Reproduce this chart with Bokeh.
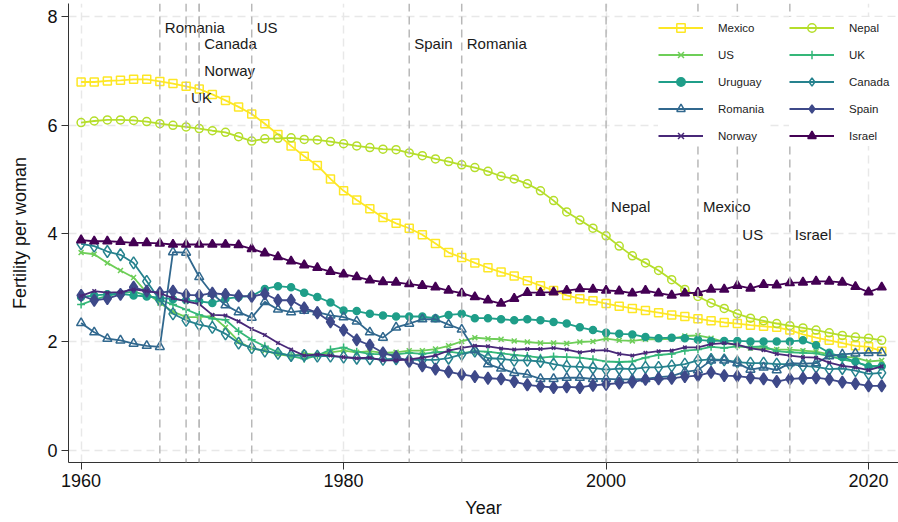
from bokeh.plotting import figure
from bokeh.models import Range1d, FixedTicker, Span, Legend, LegendItem
from bokeh.core.properties import value
from bokeh.embed import file_html
from bokeh.resources import INLINE

years = list(range(1960, 2022))

mexico = [6.80, 6.80, 6.82, 6.83, 6.85, 6.85, 6.81, 6.77, 6.72, 6.67,
          6.57, 6.46, 6.34, 6.21, 6.03, 5.83, 5.62, 5.43, 5.26, 5.01,
          4.79, 4.62, 4.46, 4.30, 4.19, 4.10, 3.98, 3.82, 3.65, 3.56,
          3.46, 3.37, 3.29, 3.22, 3.13, 3.04, 2.95, 2.86, 2.80, 2.76,
          2.71, 2.66, 2.62, 2.58, 2.54, 2.50, 2.47, 2.43, 2.39, 2.36,
          2.34, 2.31, 2.29, 2.27, 2.22, 2.14, 2.08, 2.03, 1.98, 1.93,
          1.91, 1.83]
nepal = [6.05, 6.08, 6.10, 6.10, 6.09, 6.07, 6.03, 6.00, 5.97, 5.94,
         5.90, 5.87, 5.79, 5.71, 5.75, 5.76, 5.77, 5.74, 5.73, 5.70,
         5.66, 5.62, 5.59, 5.56, 5.55, 5.49, 5.44, 5.38, 5.33, 5.27,
         5.22, 5.15, 5.06, 5.01, 4.92, 4.79, 4.61, 4.40, 4.25, 4.10,
         3.96, 3.77, 3.59, 3.46, 3.32, 3.15, 2.97, 2.84, 2.72, 2.62,
         2.52, 2.44, 2.39, 2.34, 2.30, 2.26, 2.22, 2.17, 2.12, 2.09,
         2.07, 2.03]
us = [3.65, 3.62, 3.46, 3.32, 3.19, 2.91, 2.72, 2.56, 2.46, 2.46,
      2.48, 2.27, 2.01, 1.88, 1.84, 1.77, 1.74, 1.79, 1.76, 1.81,
      1.84, 1.81, 1.83, 1.80, 1.81, 1.84, 1.84, 1.87, 1.93, 2.01,
      2.08, 2.06, 2.05, 2.02, 2.00, 1.98, 1.98, 1.97, 2.00, 2.01,
      2.06, 2.03, 2.02, 2.05, 2.05, 2.06, 2.11, 2.12, 2.07, 2.00,
      1.93, 1.89, 1.88, 1.86, 1.86, 1.84, 1.82, 1.77, 1.73, 1.71,
      1.64, 1.66]
uk = [2.69, 2.78, 2.85, 2.90, 2.93, 2.86, 2.78, 2.69, 2.60, 2.50,
      2.43, 2.41, 2.20, 2.04, 1.92, 1.81, 1.74, 1.69, 1.75, 1.86,
      1.90, 1.82, 1.78, 1.77, 1.77, 1.80, 1.78, 1.81, 1.82, 1.79,
      1.83, 1.82, 1.79, 1.76, 1.74, 1.71, 1.73, 1.72, 1.71, 1.68,
      1.64, 1.63, 1.64, 1.71, 1.76, 1.78, 1.84, 1.86, 1.91, 1.89,
      1.92, 1.91, 1.92, 1.83, 1.81, 1.80, 1.79, 1.74, 1.68, 1.63,
      1.56, 1.56]
uruguay = [2.83, 2.86, 2.88, 2.89, 2.86, 2.84, 2.82, 2.79, 2.77, 2.75,
           2.72, 2.80, 2.83, 2.85, 2.98, 3.03, 3.01, 2.91, 2.83, 2.73,
           2.58, 2.57, 2.52, 2.49, 2.47, 2.47, 2.47, 2.44, 2.50, 2.52,
           2.44, 2.44, 2.42, 2.40, 2.42, 2.40, 2.37, 2.34, 2.27, 2.22,
           2.17, 2.15, 2.14, 2.09, 2.07, 2.08, 2.07, 2.04, 2.02, 2.02,
           2.02, 2.01, 2.01, 2.01, 2.01, 2.03, 1.94, 1.80, 1.72, 1.64,
           1.54, 1.55]
canada = [3.81, 3.77, 3.67, 3.61, 3.46, 3.12, 2.77, 2.52, 2.40, 2.32,
          2.27, 2.15, 1.98, 1.89, 1.83, 1.79, 1.75, 1.75, 1.74, 1.74,
          1.72, 1.70, 1.69, 1.68, 1.69, 1.67, 1.67, 1.67, 1.70, 1.77,
          1.83, 1.70, 1.69, 1.66, 1.66, 1.64, 1.59, 1.55, 1.54, 1.52,
          1.49, 1.51, 1.50, 1.53, 1.53, 1.56, 1.59, 1.66, 1.68, 1.67,
          1.63, 1.61, 1.61, 1.59, 1.59, 1.56, 1.54, 1.50, 1.51, 1.47,
          1.41, 1.43]
romania = [2.35, 2.18, 2.06, 2.03, 1.97, 1.93, 1.91, 3.66, 3.65, 3.20,
           2.89, 2.68, 2.55, 2.45, 2.74, 2.60, 2.55, 2.58, 2.55, 2.49,
           2.46, 2.38, 2.18, 2.08, 2.27, 2.34, 2.42, 2.42, 2.32, 2.23,
           1.85, 1.59, 1.51, 1.43, 1.40, 1.32, 1.32, 1.34, 1.34, 1.32,
           1.32, 1.31, 1.31, 1.32, 1.35, 1.37, 1.45, 1.48, 1.66, 1.66,
           1.61, 1.49, 1.53, 1.48, 1.61, 1.60, 1.61, 1.74, 1.77, 1.79,
           1.80, 1.80]
spain = [2.86, 2.77, 2.80, 2.88, 3.01, 2.94, 2.91, 2.94, 2.87, 2.86,
         2.90, 2.88, 2.85, 2.84, 2.89, 2.77, 2.77, 2.63, 2.54, 2.37,
         2.22, 2.04, 1.94, 1.80, 1.73, 1.64, 1.56, 1.50, 1.45, 1.40,
         1.36, 1.33, 1.32, 1.27, 1.21, 1.18, 1.16, 1.17, 1.16, 1.20,
         1.22, 1.24, 1.26, 1.31, 1.32, 1.33, 1.36, 1.38, 1.44, 1.38,
         1.37, 1.34, 1.32, 1.27, 1.32, 1.33, 1.34, 1.31, 1.26, 1.23,
         1.19, 1.19]
norway = [2.85, 2.94, 2.91, 2.92, 2.97, 2.94, 2.90, 2.81, 2.75, 2.70,
          2.50, 2.49, 2.38, 2.24, 2.13, 1.98, 1.86, 1.75, 1.77, 1.75,
          1.72, 1.70, 1.71, 1.66, 1.66, 1.68, 1.71, 1.75, 1.84, 1.89,
          1.93, 1.92, 1.88, 1.86, 1.87, 1.87, 1.89, 1.86, 1.81, 1.84,
          1.85, 1.78, 1.75, 1.80, 1.83, 1.84, 1.90, 1.90, 1.96, 1.98,
          1.95, 1.88, 1.85, 1.78, 1.75, 1.72, 1.71, 1.62, 1.56, 1.53,
          1.48, 1.55]
israel = [3.88, 3.86, 3.86, 3.85, 3.83, 3.83, 3.82, 3.80, 3.80, 3.80,
          3.80, 3.80, 3.79, 3.72, 3.64, 3.57, 3.49, 3.42, 3.37, 3.30,
          3.25, 3.20, 3.14, 3.11, 3.10, 3.07, 3.04, 3.01, 2.95, 2.90,
          2.83, 2.77, 2.71, 2.80, 2.91, 2.91, 2.92, 2.95, 2.98, 2.97,
          2.95, 2.94, 2.90, 2.95, 2.90, 2.86, 2.90, 2.91, 2.97, 2.97,
          3.04, 2.99, 3.06, 3.05, 3.09, 3.10, 3.12, 3.12, 3.10, 3.02,
          2.92, 3.01]

countries = ["Mexico", "Nepal", "US", "UK", "Uruguay", "Canada",
             "Romania", "Spain", "Norway", "Israel"]
series = [mexico, nepal, us, uk, uruguay, canada, romania, spain, norway, israel]
colors = ["#FDE725", "#B5DE2B", "#6ECE58", "#35B779", "#1F9E89",
          "#26828E", "#31688E", "#3E4989", "#482878", "#440154"]
markers = ["square", "circle", "x", "cross", "circle", "diamond",
           "triangle", "diamond", "x", "triangle"]
filled = [False, False, True, True, True, False, False, True, True, True]
msizes = [8, 8, 7, 8, 7, 12, 9, 12, 5, 9]

event_years = [1966, 1968, 1969, 1969, 1973, 1985, 1989, 2000, 2007, 2010, 2014]
event_labels = ["Romania", "UK", "Canada", "Norway", "US", "Spain", "Romania",
                "Nepal", "Mexico", "US", "Israel"]
label_y = [7.81, 6.51, 7.51, 7.01, 7.81, 7.51, 7.51, 4.50, 4.50, 3.99, 3.99]

FONT = "Liberation Sans"

p = figure(width=898, height=522, output_backend="svg", toolbar_location=None,
           x_range=Range1d(1959.04, 2022.28), y_range=Range1d(-0.225, 8.249),
           min_border_left=68, min_border_right=0, min_border_top=3,
           min_border_bottom=60)
p.outline_line_color = None
p.background_fill_color = "white"

for ax in (p.xaxis[0], p.yaxis[0]):
    ax.axis_line_color = "#333333"
    ax.major_tick_line_color = "#333333"
    ax.major_tick_out = 7
    ax.major_tick_in = 0
    ax.minor_tick_line_color = None
    ax.major_label_text_font = FONT
    ax.major_label_text_font_size = "18px"
    ax.major_label_text_color = "#111111"
    ax.axis_label_text_font = FONT
    ax.axis_label_text_font_size = "18px"
    ax.axis_label_text_font_style = "normal"
    ax.axis_label_text_color = "#111111"
    ax.major_label_standoff = 4

p.xaxis.ticker = FixedTicker(ticks=[1960, 1980, 2000, 2020])
p.yaxis.ticker = FixedTicker(ticks=[0, 2, 4, 6, 8])
p.xaxis.axis_label = "Year"
p.yaxis.axis_label = "Fertility per woman"
p.xaxis.axis_label_standoff = 8
p.yaxis.axis_label_standoff = 14

for g in (p.xgrid[0], p.ygrid[0]):
    g.grid_line_color = "#e8e8e8"
    g.grid_line_width = 1.5
    g.grid_line_dash = "8 5"

for yr in event_years:
    p.add_layout(Span(location=yr, dimension="height", line_color="#b8b8b8",
                      line_width=1.5, line_dash="8 5"))

items = []
for name, vals, col, mk, fl, ms in zip(countries, series, colors, markers, filled, msizes):
    lr = p.line(years, vals, line_color=col, line_width=1.8)
    sr = p.scatter(years, vals, marker=mk, size=ms, line_color=col, line_width=1.5,
                   fill_color=col, fill_alpha=1.0 if fl else 0.0)
    items.append(LegendItem(label=name, renderers=[lr, sr]))

p.text(x=event_years, y=label_y, text=event_labels, x_offset=5,
       text_baseline="middle", text_align="left", text_font=value(FONT),
       text_font_size="15px", text_color="#1a1a1a")

col1 = [items[i] for i in (0, 2, 4, 6, 8)]
col2 = [items[i] for i in (1, 3, 5, 7, 9)]
for its, loc in ((col1, (590, 316)), (col2, (721, 316))):
    lg = Legend(items=its, location=loc, orientation="vertical",
                glyph_width=45, glyph_height=21, label_height=21, spacing=6,
                label_standoff=15, padding=9, label_width=50,
                border_line_color=None, background_fill_color="white",
                background_fill_alpha=1.0,
                label_text_font=FONT, label_text_font_size="11.5px",
                label_text_color="#222222", margin=0)
    p.add_layout(lg, "center")

open("out.html", "w").write(file_html(p, INLINE))
